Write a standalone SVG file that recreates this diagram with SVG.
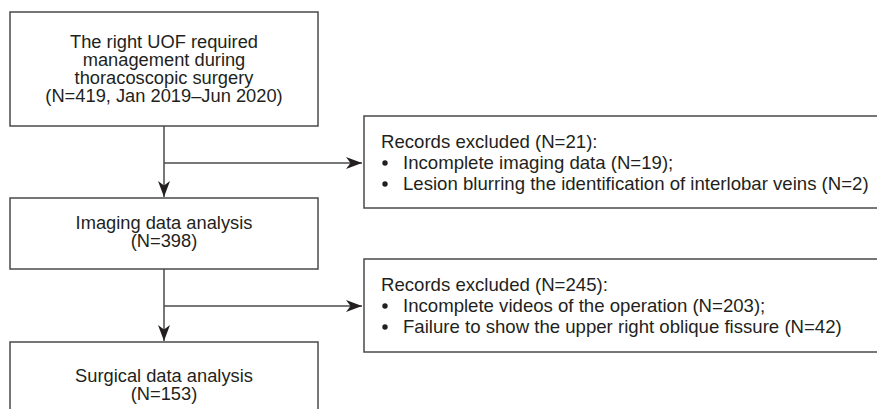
<svg xmlns="http://www.w3.org/2000/svg" width="877" height="409" viewBox="0 0 877 409">
  <style>
    .box { fill: #ffffff; stroke: #4a4a4a; stroke-width: 1.5; }
    .txt { font-family: "Liberation Sans", Arial, sans-serif; font-size: 18.6px; fill: #231f20; }
    .c { text-anchor: middle; font-size: 18.3px; }
    .line { fill: none; stroke: #4a4a4a; stroke-width: 1.5; }
    .bullet { fill: #231f20; }
  </style>
  <defs>
    <marker id="arrow" markerUnits="userSpaceOnUse" markerWidth="17" markerHeight="13" refX="16" refY="6" orient="auto">
      <path d="M0,0 L16,6 L0,12 L4.5,6 z" fill="#231f20"/>
    </marker>
  </defs>
  <rect x="0" y="0" width="877" height="409" fill="#ffffff"/>

  <g id="connectors">
    <line class="line" x1="164" y1="126" x2="164" y2="197" marker-end="url(#arrow)"/>
    <line class="line" x1="164" y1="163" x2="362" y2="163" marker-end="url(#arrow)"/>
    <line class="line" x1="164" y1="269" x2="164" y2="341" marker-end="url(#arrow)"/>
    <line class="line" x1="164" y1="306" x2="362" y2="306" marker-end="url(#arrow)"/>
  </g>

  <g id="node-start">
    <rect class="box" x="10" y="12" width="308" height="114"/>
    <text class="txt c" x="164" y="47.5">The right UOF required</text>
    <text class="txt c" x="164" y="65.5">management during</text>
    <text class="txt c" x="164" y="83.5">thoracoscopic surgery</text>
    <text class="txt c" x="164" y="101.5">(N=419, Jan 2019–Jun 2020)</text>
  </g>

  <g id="node-imaging">
    <rect class="box" x="10" y="198" width="308" height="71"/>
    <text class="txt c" x="164" y="229">Imaging data analysis</text>
    <text class="txt c" x="164" y="247">(N=398)</text>
  </g>

  <g id="node-surgical">
    <rect class="box" x="10" y="342" width="308" height="90"/>
    <text class="txt c" x="164" y="382">Surgical data analysis</text>
    <text class="txt c" x="164" y="400">(N=153)</text>
  </g>

  <g id="node-excluded-1">
    <rect class="box" x="364" y="116" width="530" height="92"/>
    <text class="txt" x="381" y="147.5">Records excluded (N=21):</text>
    <circle class="bullet" cx="385" cy="163" r="2.7"/>
    <text class="txt" x="403" y="168.5">Incomplete imaging data (N=19);</text>
    <circle class="bullet" cx="385" cy="184" r="2.7"/>
    <text class="txt" x="403" y="189.5">Lesion blurring the identification of interlobar veins (N=2)</text>
  </g>

  <g id="node-excluded-2">
    <rect class="box" x="364" y="259" width="530" height="93"/>
    <text class="txt" x="381" y="290.5">Records excluded (N=245):</text>
    <circle class="bullet" cx="385" cy="306" r="2.7"/>
    <text class="txt" x="403" y="311.5">Incomplete videos of the operation (N=203);</text>
    <circle class="bullet" cx="385" cy="327" r="2.7"/>
    <text class="txt" x="403" y="332.5">Failure to show the upper right oblique fissure (N=42)</text>
  </g>
</svg>
